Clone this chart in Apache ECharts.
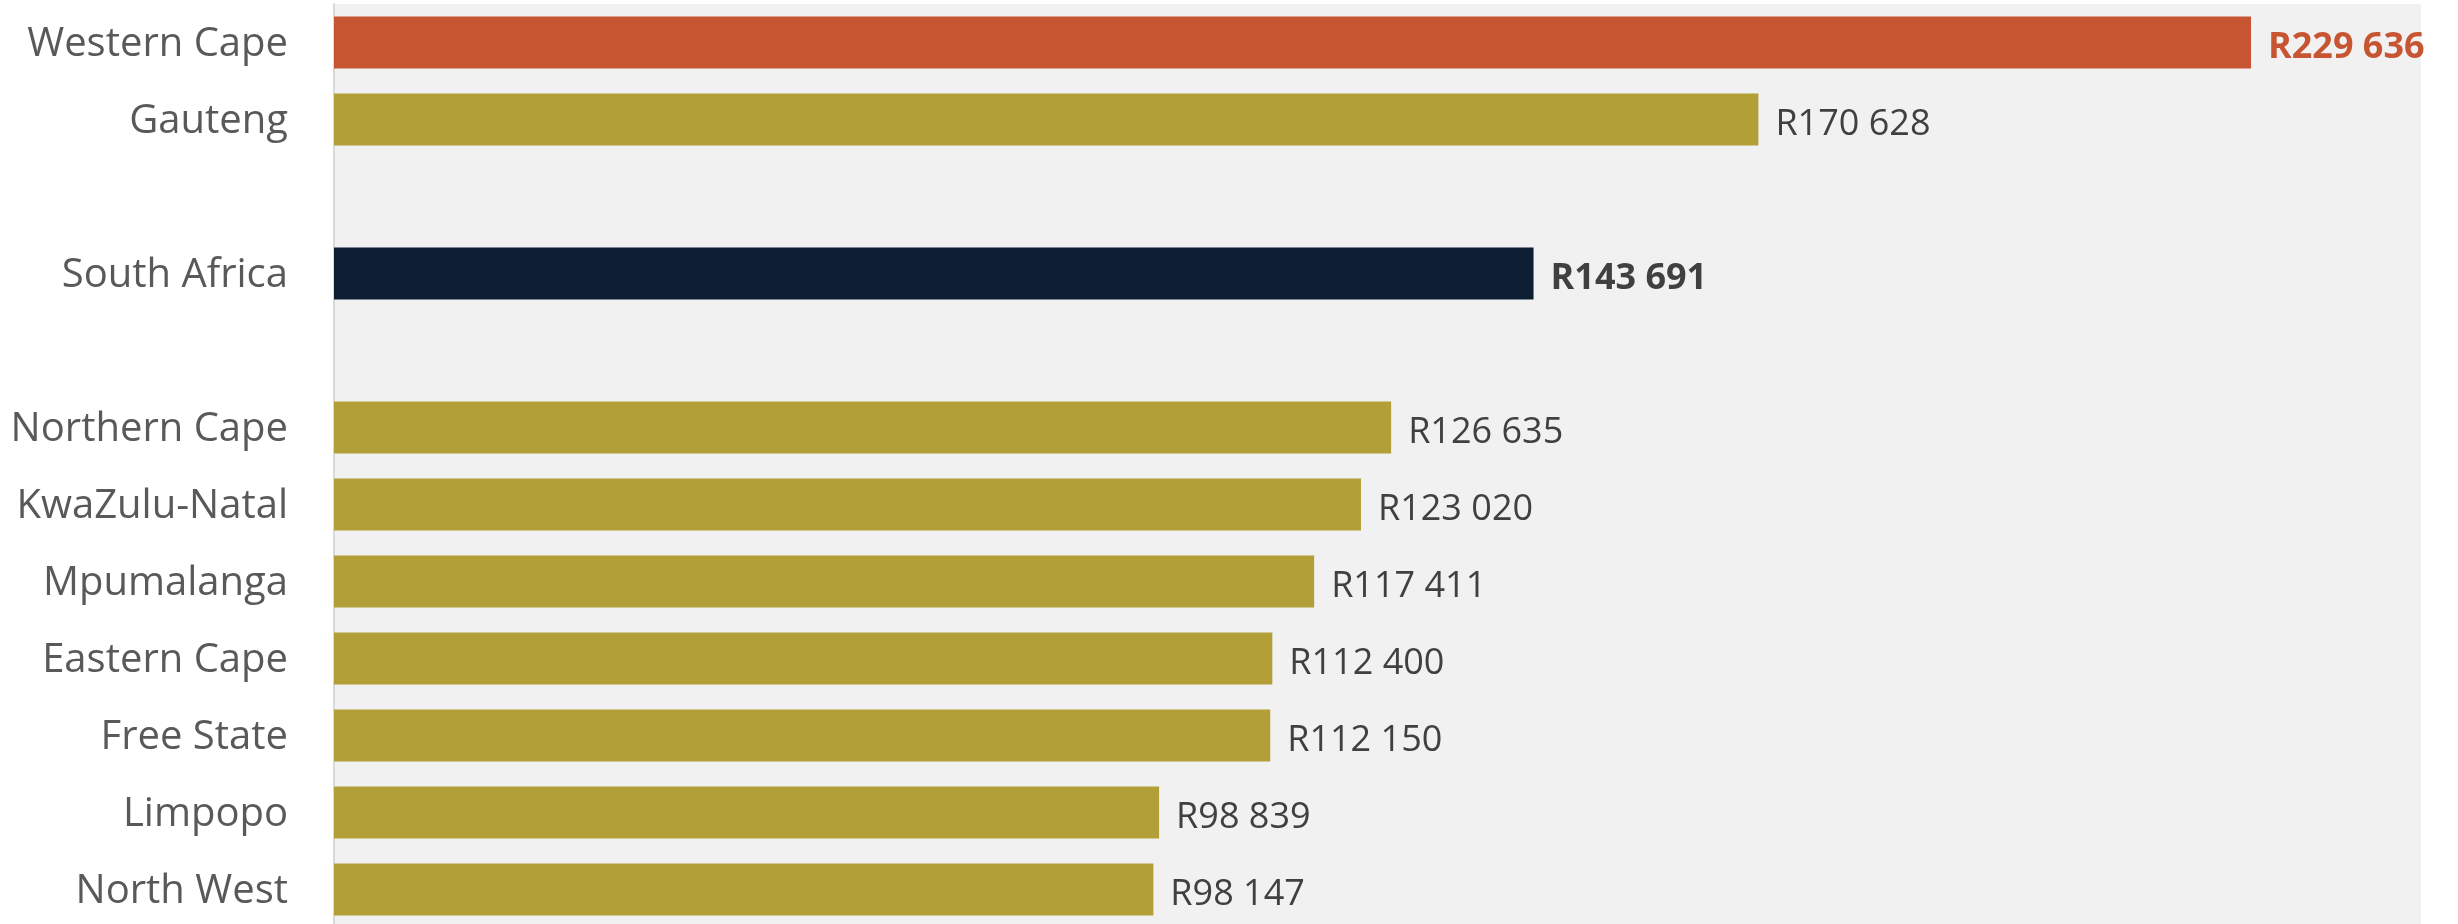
<!DOCTYPE html>
<html>
<head>
<meta charset="utf-8">
<script src="https://cdn.jsdelivr.net/npm/echarts@6/dist/echarts.min.js"></script>
<style>
html,body{margin:0;padding:0;background:#fff;}
#chart{width:2458px;height:924px;}
</style>
</head>
<body>
<div id="chart"></div>
<script>
const categories = ['Western Cape', 'Gauteng', ' ', 'South Africa', '  ', 'Northern Cape', 'KwaZulu-Natal', 'Mpumalanga', 'Eastern Cape', 'Free State', 'Limpopo', 'North West'];
const values = [229636, 170628, null, 143691, null, 126635, 123020, 117411, 112400, 112150, 98839, 98147];
const highlightMax = 'Western Cape';
const nationalName = 'South Africa';

const COLOR_ORANGE = '#C85532';
const COLOR_GOLD = '#B29F38';
const COLOR_NAVY = '#0C1E32';
const FONT = '"Open Sans", "Noto Sans", sans-serif';

function fmt(v) {
  return 'R' + String(v).replace(/\B(?=(\d{3})+(?!\d))/g, ' ');
}

const data = values.map((v, i) => {
  const name = categories[i];
  if (v === null) return null;
  let color = COLOR_GOLD, labelColor = '#404040', weight = 'normal';
  if (name === highlightMax) { color = COLOR_ORANGE; labelColor = COLOR_ORANGE; weight = 'bold'; }
  else if (name === nationalName) { color = COLOR_NAVY; weight = 'bold'; }
  return {
    value: v,
    itemStyle: { color: color },
    label: { color: labelColor, fontWeight: weight }
  };
});

const chart = echarts.init(document.getElementById('chart'), null, { renderer: 'canvas' });
chart.setOption({
  animation: false,
  backgroundColor: '#ffffff',
  grid: {
    left: 334, right: 37, top: 4, height: 924,
    show: true, backgroundColor: '#F1F1F1', borderWidth: 0,
    containLabel: false,
    outerBoundsMode: 'none'
  },
  xAxis: {
    type: 'value', min: 0, max: 250000,
    show: false
  },
  yAxis: {
    type: 'category', data: categories, inverse: true,
    axisLine: { show: true, lineStyle: { color: '#D9D9D9', width: 2 } },
    axisTick: { show: false },
    axisLabel: { margin: 46, color: '#595959', fontSize: 40, fontFamily: FONT, verticalAlign: 'top', lineHeight: 4 }
  },
  series: [{
    type: 'bar',
    data: data,
    barCategoryGap: '32.5%',
    label: {
      show: true, position: 'right', distance: 17, offset: [0, 5],
      fontSize: 36, fontFamily: FONT,
      formatter: p => fmt(p.value)
    }
  }]
});
</script>
</body>
</html>
